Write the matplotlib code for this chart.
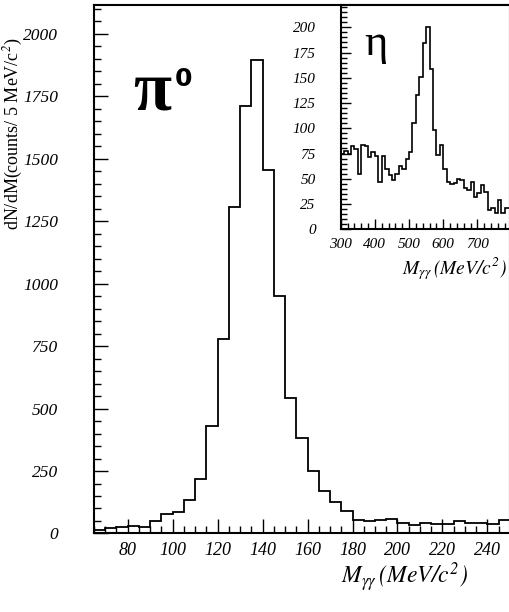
import matplotlib.pyplot as plt
import numpy as np
from matplotlib.ticker import MultipleLocator

plt.rcParams['font.family'] = ['Liberation Serif', 'DejaVu Serif']
plt.rcParams['font.style'] = 'italic'
plt.rcParams['mathtext.fontset'] = 'stix'

# pi0 peak, 5 MeV bins from 65 to 250 MeV/c^2
pi_lo, pi_width = 65, 5
pi_counts = [13, 20, 24, 31, 24, 51, 76, 84, 135, 220, 430, 780, 1305, 1712, 1895,
             1455, 949, 544, 384, 251, 169, 125, 89, 53, 51, 53, 57, 43, 32, 41,
             39, 36, 51, 40, 43, 36, 53]

# eta peak (inset), 10 MeV bins from 300 MeV/c^2
eta_lo, eta_width = 300, 10
eta_counts = [75, 78, 75, 82, 79, 55, 83, 82, 72, 77, 73, 47, 73, 60, 54, 49, 55, 63,
              60, 70, 77, 105, 133, 151, 184, 200, 159, 98, 74, 83, 60, 47, 45, 46,
              50, 49, 41, 39, 47, 32, 36, 44, 37, 19, 21, 16, 29, 16, 21, 21]

pi_edges = pi_lo + pi_width * np.arange(len(pi_counts) + 1)
eta_edges = eta_lo + eta_width * np.arange(len(eta_counts) + 1)

fig = plt.figure(figsize=(5.09, 6.12), dpi=100)
ax = fig.add_axes([0.1847, 0.1283, 0.817, 0.8636])
ax.stairs(pi_counts, pi_edges, color='black', linewidth=1.3)
ax.set_xlim(65, 250)
ax.set_ylim(0, 2115)
ax.xaxis.set_major_locator(MultipleLocator(20))
ax.xaxis.set_minor_locator(MultipleLocator(5))
ax.yaxis.set_major_locator(MultipleLocator(250))
ax.yaxis.set_minor_locator(MultipleLocator(50))
ax.tick_params(which='both', direction='in', top=False, right=False, width=1)
ax.tick_params(which='major', length=10)
ax.tick_params(which='minor', length=5)
ax.tick_params(axis='y', pad=26, labelsize=12.5)
ax.tick_params(axis='x', pad=6, labelsize=13)
for s in ax.spines.values():
    s.set_linewidth(1.5)

ax.text(0.095, 0.835, 'π', transform=ax.transAxes, fontsize=50, fontweight='bold',
        style='normal', ha='left', va='center')
ax.text(0.195, 0.86, '0', transform=ax.transAxes, fontsize=18, fontweight='bold',
        family='DejaVu Sans', style='normal', ha='left', va='center')

fig.text(0.027, 1 - 134 / 612, 'dN/dM(counts/ 5 MeV/c$^{2}$)', rotation=90,
         ha='center', va='center', fontsize=13, style='normal')
fig.text(468 / 509, 1 - 577 / 612, r'$M_{\gamma\gamma}\,(MeV/c^{2})$', ha='right',
         va='center', fontsize=17)

# inset: eta
ins = fig.add_axes([0.6693, 0.6253, 0.3326, 0.3665])
ins.stairs(eta_counts, eta_edges, color='black', linewidth=1.2)
ins.set_xlim(300, 795)
ins.set_ylim(0, 222)
ins.set_xticks([300, 400, 500, 600, 700])
ins.xaxis.set_minor_locator(MultipleLocator(20))
ins.yaxis.set_major_locator(MultipleLocator(25))
ins.yaxis.set_minor_locator(MultipleLocator(5))
ins.tick_params(which='both', direction='in', top=False, right=False, width=1)
ins.tick_params(which='major', length=7)
ins.tick_params(which='minor', length=4)
ins.tick_params(axis='y', pad=18, labelsize=11)
ins.tick_params(axis='x', pad=6, labelsize=11)
for s in ins.spines.values():
    s.set_linewidth(1.5)
ins.text(0.14, 0.826, 'η', transform=ins.transAxes, fontsize=32, style='normal',
         ha='left', va='center')
fig.text(507 / 509, 1 - 269 / 612, r'$M_{\gamma\gamma}\,(MeV/c^{2})$', ha='right',
         va='center', fontsize=14)

fig.savefig('out.png', dpi=100)
